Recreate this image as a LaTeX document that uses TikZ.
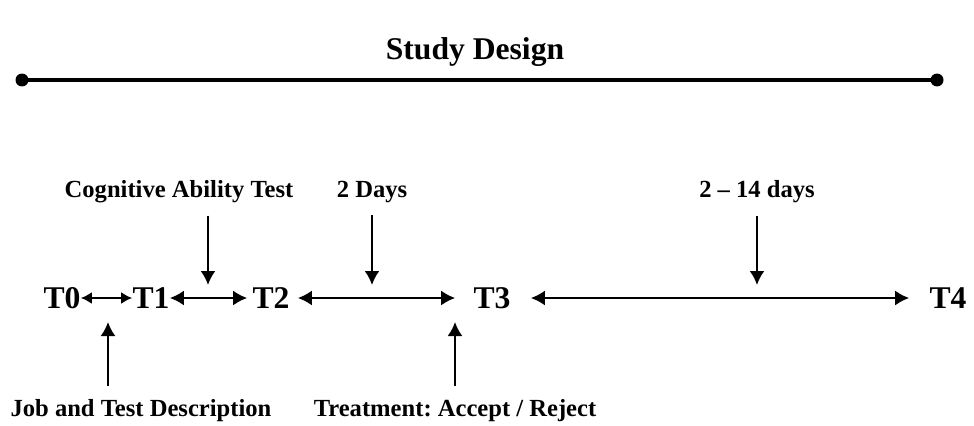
\documentclass[tikz,border=0pt]{standalone}
\usepackage{fontspec}
\setmainfont{Liberation Serif}
\usetikzlibrary{arrows.meta}
\begin{document}
\frenchspacing
\begin{tikzpicture}[x=0.02cm,y=-0.02cm,>={Latex[length=0.28cm,width=0.3cm]},
  tp/.style={font=\fontsize{18}{20}\selectfont\bfseries,inner sep=0pt},
  lbl/.style={font=\fontsize{14}{16}\selectfont\bfseries,inner sep=0pt},
  ar/.style={line width=1.3pt}]
\useasboundingbox (0,0) rectangle (974,426);
\node[tp] (title) at (475,52) {Study Design};
\coordinate (l) at (22,80);
\coordinate (r) at (937,80);
\draw[line width=2.4pt] (l) -- (r);
\fill (l) circle (0.13cm) (r) circle (0.13cm);
% time points
\node[tp] (t0) at (62,298) {T0};
\node[tp] (t1) at (151,298) {T1};
\node[tp] (t2) at (271,298) {T2};
\node[tp] (t3) at (492,298) {T3};
\node[tp] (t4) at (948,298) {T4};
\draw[ar,{Latex[length=0.22cm,width=0.24cm]}-{Latex[length=0.22cm,width=0.24cm]}] (t0) -- (t1);
\draw[ar,<->,shorten >=0.1cm] (t1) -- (t2);
\draw[ar,<->,shorten <=0.16cm,shorten >=0.36cm] (t2) -- (t3);
\draw[ar,<->,shorten <=0.4cm,shorten >=0.4cm] (t3) -- (t4);
% labels
\node[lbl] (cog) at (179,192) {Cognitive Ability Test};
\node[lbl] (d2) at (372,192) {2 Days};
\node[lbl] (d14) at (757,192) {2 -- 14 days};
\node[lbl] (job) at (141,411) {Job and Test Description};
\node[lbl] (trt) at (455,411) {Treatment: Accept / Reject};
\coordinate (a1) at (208,285);
\coordinate (a2) at (372,285);
\coordinate (a3) at (757,285);
\coordinate (b1) at (108,322);
\coordinate (b2) at (455,322);
\draw[ar,->,shorten <=0.24cm] (cog.south -| a1) -- (a1);
\draw[ar,->,shorten <=0.24cm] (d2.south -| a2) -- (a2);
\draw[ar,->,shorten <=0.24cm] (d14.south -| a3) -- (a3);
\draw[ar,<-,shorten >=0.28cm] (b1) -- (b1 |- job.north);
\draw[ar,<-,shorten >=0.28cm] (b2) -- (b2 |- trt.north);
\end{tikzpicture}
\end{document}
